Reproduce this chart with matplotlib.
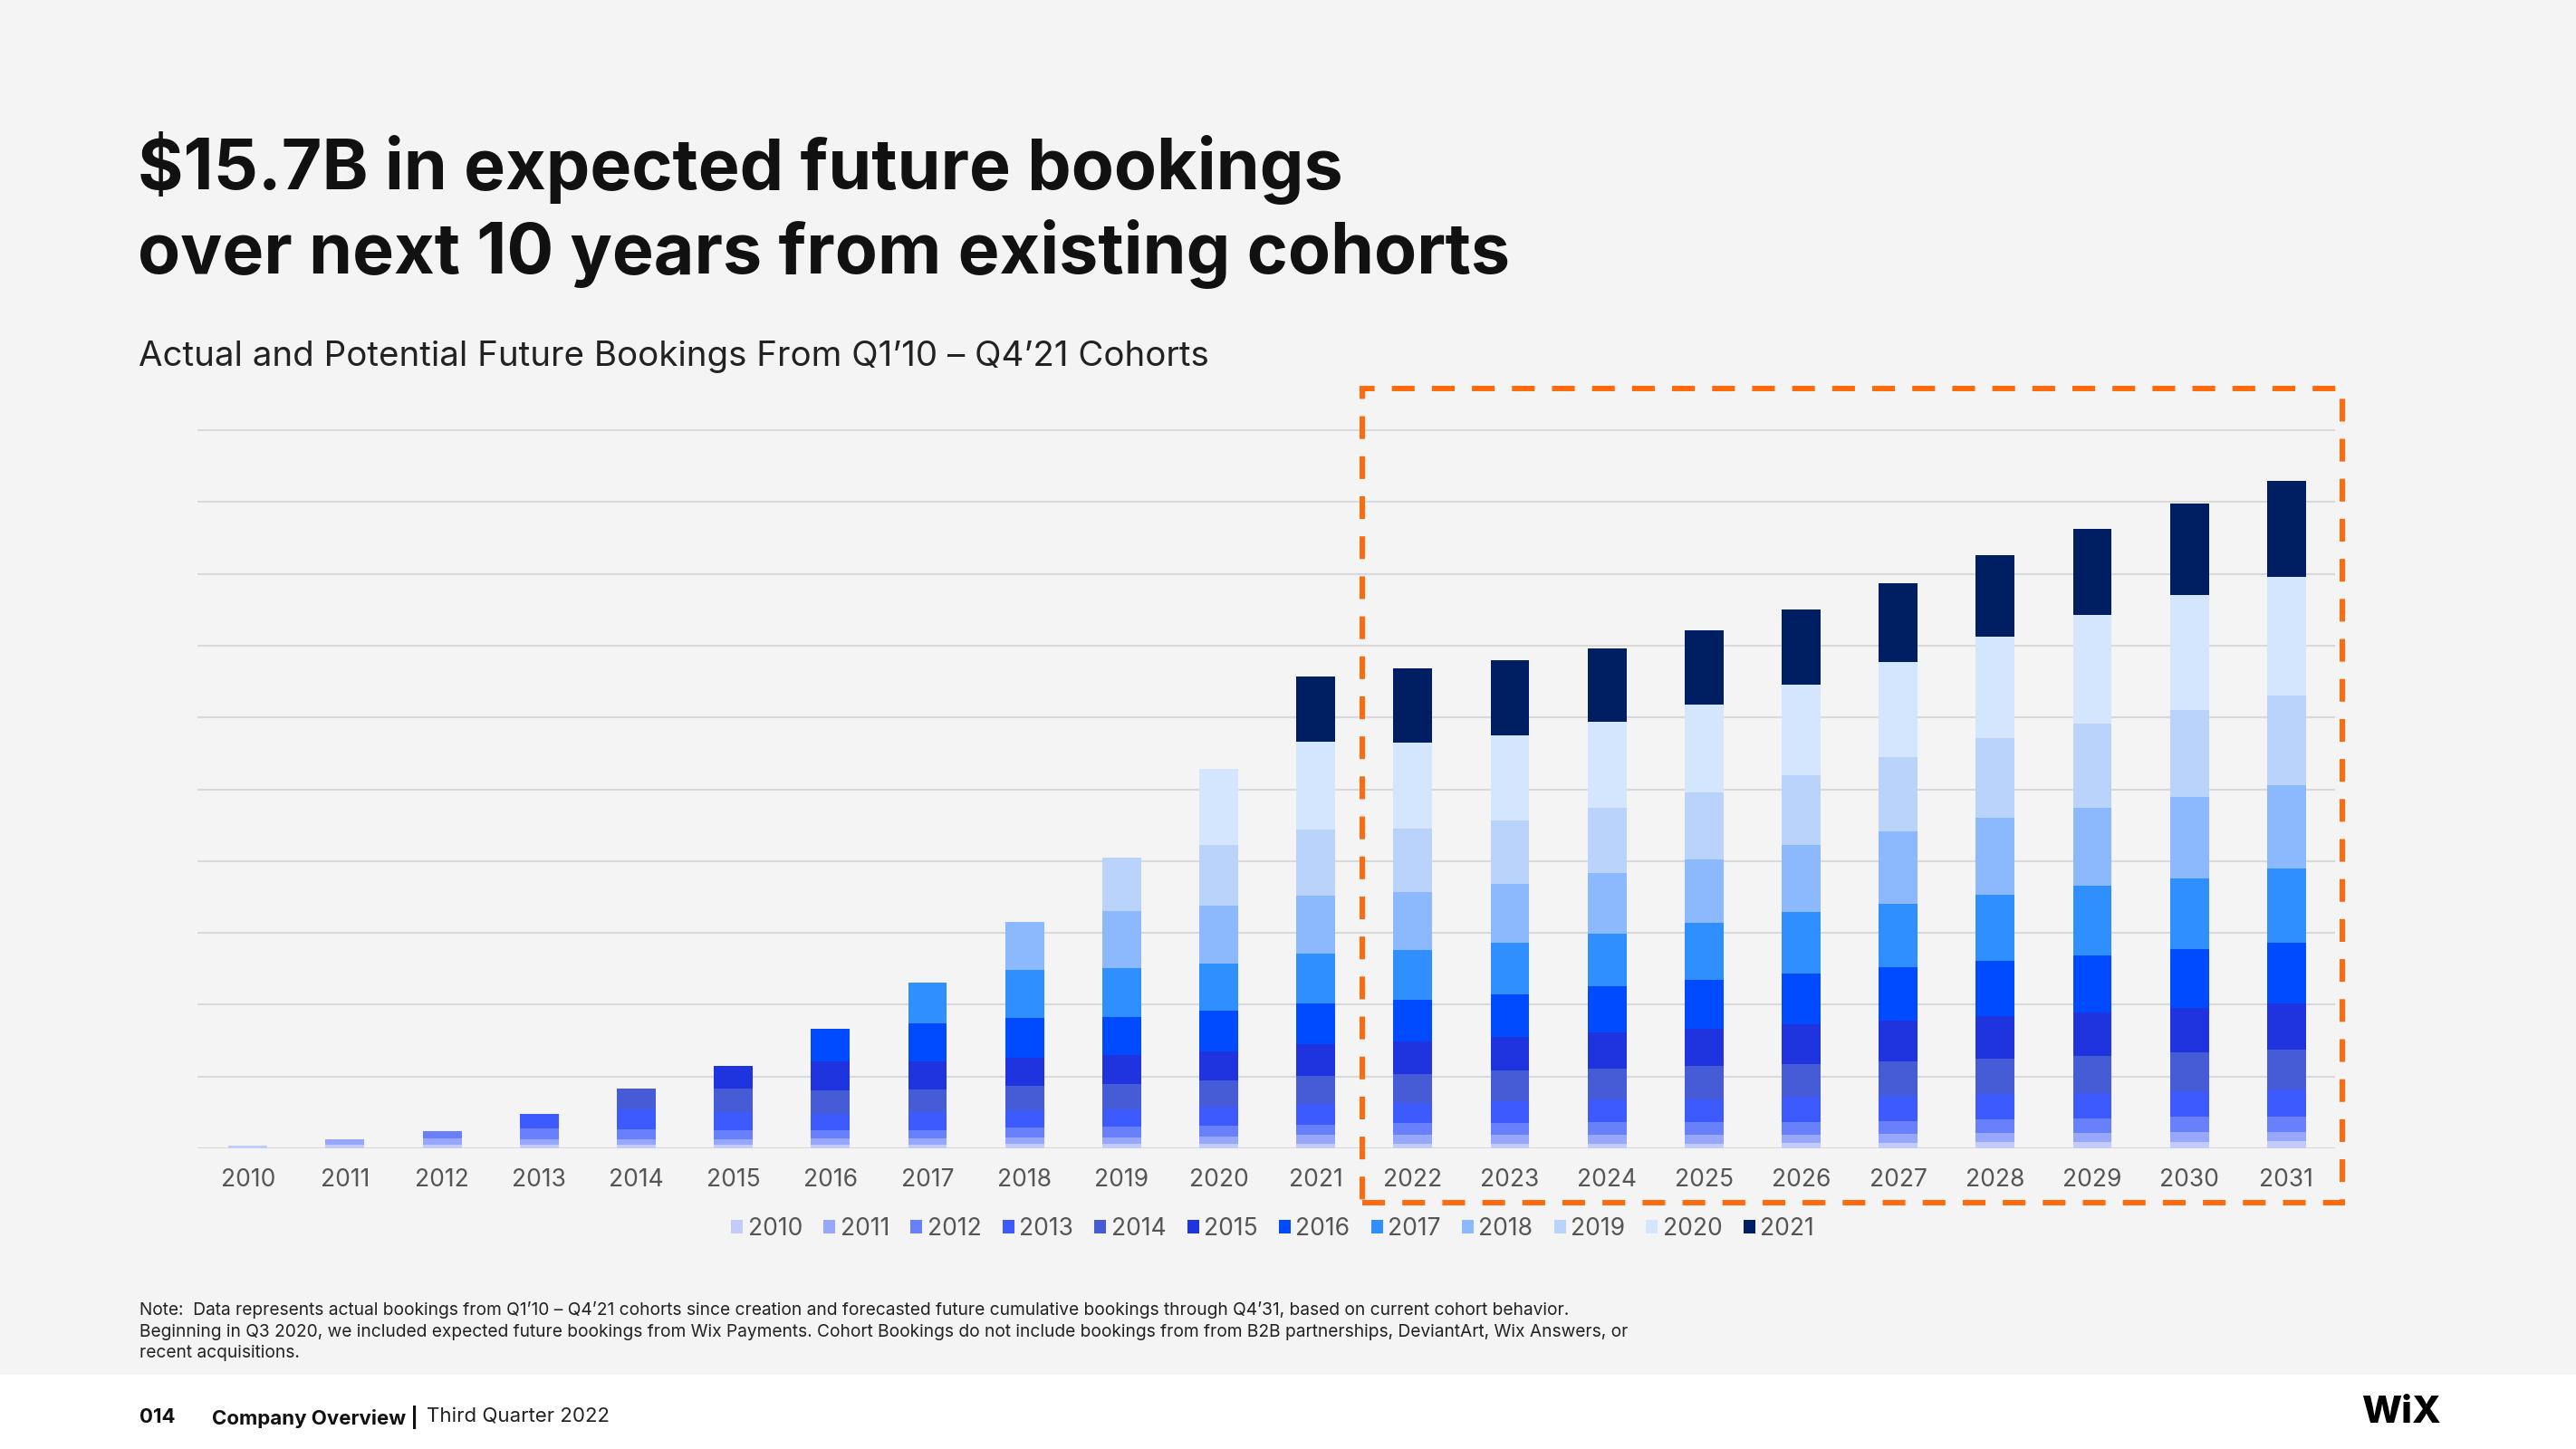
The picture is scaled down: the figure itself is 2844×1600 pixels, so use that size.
import matplotlib
matplotlib.use("Agg")
import matplotlib.pyplot as plt
from matplotlib.patches import Rectangle, Patch
import numpy as np

# ---------------- data (height in gridline units) ----------------
years = ["2010", "2011", "2012", "2013", "2014", "2015", "2016", "2017", "2018", "2019", "2020",
         "2021", "2022", "2023", "2024", "2025", "2026", "2027", "2028", "2029", "2030", "2031"]
cohorts = ["2010", "2011", "2012", "2013", "2014", "2015", "2016", "2017", "2018", "2019", "2020", "2021"]

c2010 = [0.034, 0.055, 0.047, 0.055, 0.055, 0.055, 0.050, 0.050, 0.060, 0.060, 0.060, 0.066,
         0.069, 0.069, 0.069, 0.069, 0.078, 0.078, 0.085, 0.085, 0.091, 0.098]
c2011 = [0, 0.068, 0.097, 0.076, 0.076, 0.068, 0.083, 0.083, 0.087, 0.092, 0.101, 0.120,
         0.118, 0.118, 0.118, 0.123, 0.117, 0.130, 0.130, 0.130, 0.137, 0.130]
c2012 = [0, 0, 0.100, 0.144, 0.135, 0.123, 0.124, 0.124, 0.138, 0.147, 0.157, 0.147,
         0.162, 0.162, 0.177, 0.177, 0.176, 0.176, 0.189, 0.202, 0.209, 0.215]
c2013 = [0, 0, 0, 0.200, 0.275, 0.254, 0.226, 0.244, 0.249, 0.249, 0.267, 0.290,
         0.286, 0.305, 0.315, 0.315, 0.346, 0.352, 0.352, 0.346, 0.359, 0.378]
c2014 = [0, 0, 0, 0, 0.290, 0.334, 0.327, 0.313, 0.331, 0.345, 0.355, 0.388,
         0.399, 0.428, 0.428, 0.458, 0.457, 0.476, 0.496, 0.528, 0.535, 0.554]
c2015 = [0, 0, 0, 0, 0, 0.317, 0.405, 0.391, 0.400, 0.405, 0.414, 0.440,
         0.448, 0.463, 0.502, 0.522, 0.554, 0.561, 0.587, 0.600, 0.626, 0.646]
c2016 = [0, 0, 0, 0, 0, 0, 0.451, 0.534, 0.557, 0.529, 0.566, 0.568,
         0.591, 0.601, 0.645, 0.684, 0.705, 0.744, 0.770, 0.789, 0.815, 0.841]
c2017 = [0, 0, 0, 0, 0, 0, 0, 0.571, 0.668, 0.677, 0.658, 0.697,
         0.694, 0.719, 0.739, 0.793, 0.855, 0.894, 0.926, 0.972, 0.992, 1.037]
c2018 = [0, 0, 0, 0, 0, 0, 0, 0, 0.668, 0.797, 0.797, 0.806,
         0.798, 0.817, 0.842, 0.876, 0.933, 1.005, 1.063, 1.089, 1.135, 1.161]
c2019 = [0, 0, 0, 0, 0, 0, 0, 0, 0, 0.741, 0.847, 0.916,
         0.881, 0.886, 0.906, 0.940, 0.972, 1.031, 1.109, 1.168, 1.200, 1.246]
c2020 = [0, 0, 0, 0, 0, 0, 0, 0, 0, 0, 1.064, 1.225,
         1.201, 1.182, 1.196, 1.216, 1.266, 1.331, 1.416, 1.520, 1.605, 1.650]
c2021 = [0, 0, 0, 0, 0, 0, 0, 0, 0, 0, 0, 0.910,
         1.039, 1.049, 1.029, 1.036, 1.044, 1.089, 1.135, 1.194, 1.279, 1.337]

series = [c2010, c2011, c2012, c2013, c2014, c2015, c2016, c2017, c2018, c2019, c2020, c2021]
colors = ["#C3CBFA", "#97A8FC", "#6880FB", "#3C5AFD", "#455CD6", "#1F33DF",
          "#004BFF", "#2F8FFF", "#8CB8FE", "#BAD3FA", "#D4E6FE", "#001E62"]

title_lines = ["$15.7B in expected future bookings", "over next 10 years from existing cohorts"]
subtitle = "Actual and Potential Future Bookings From Q1\u201910 \u2013 Q4\u201921 Cohorts"
note_lines = [
    "Note:  Data represents actual bookings from Q1\u201910 \u2013 Q4\u201921 cohorts since creation and forecasted future cumulative bookings through Q4\u201931, based on current cohort behavior.",
    "Beginning in Q3 2020, we included expected future bookings from Wix Payments. Cohort Bookings do not include bookings from from B2B partnerships, DeviantArt, Wix Answers, or",
    "recent acquisitions.",
]

# ---------------- figure ----------------
W, H = 2844, 1600
plt.rcParams['font.family'] = ['Inter', 'DejaVu Sans']
BG = "#F4F4F4"
fig = plt.figure(figsize=(W / 100, H / 100), dpi=100, facecolor=BG)

# white footer band
fig.patches.append(Rectangle((0, 0), 1, 82 / H, transform=fig.transFigure,
                             facecolor="white", edgecolor="none", zorder=0))

ax = fig.add_axes([218 / W, 332 / H, (2578 - 218) / W, 10.5 * 79.3 / H])
ax.set_facecolor("none")
x = np.arange(len(years))
bottom = np.zeros(len(years))
handles = []
for name, vals, col in zip(cohorts, series, colors):
    v = np.array(vals, dtype=float)
    ax.bar(x, v, width=0.40, bottom=bottom, color=col, edgecolor="none", zorder=3)
    bottom += v
    handles.append(Patch(facecolor=col, edgecolor="none", label=name))

ax.set_xlim(-0.52, 21.5)
ax.set_ylim(0, 10.5)
ax.set_yticks(np.arange(0, 11, 1))
ax.yaxis.grid(True, color="#D9D9D9", linewidth=1.5, zorder=0)
for lab in ax.get_yticklabels():
    lab.set_visible(False)
ax.tick_params(axis='y', length=0)
ax.set_xticks(x)
ax.set_xticklabels(years, fontsize=19, color="#555555")
ax.tick_params(axis='x', length=0, pad=16)
for s in ax.spines.values():
    s.set_visible(False)
ax.set_axisbelow(True)

# legend
fig.legend(handles=handles, ncol=12, loc="center", bbox_to_anchor=(1405 / W, 1 - 1357 / H),
           frameon=False, fontsize=19, handlelength=0.5, handleheight=0.5,
           handletextpad=0.2, columnspacing=0.88, labelcolor="#555555")

# dashed forecast box
fig.patches.append(Rectangle((1504 / W, 1 - 1328 / H), (2586 - 1504) / W, (1328 - 429) / H,
                             transform=fig.transFigure, fill=False, edgecolor="#FF6A0D",
                             linewidth=4.3, linestyle=(0, (4.2, 3.2)), zorder=5))

# titles
fig.text(152 / W, 1 - 209 / H, title_lines[0], fontsize=55.5, fontweight="bold", color="#111111", va="baseline")
fig.text(152 / W, 1 - 302 / H, title_lines[1], fontsize=55.5, fontweight="bold", color="#111111", va="baseline")
fig.text(153 / W, 1 - 404 / H, subtitle, fontsize=27.7, color="#222222", va="baseline")

# note
for i, ln in enumerate(note_lines):
    fig.text(154 / W, 1 - (1447 + 23.5 * i) / H, ln, fontsize=13.8, color="#222222", va="center")

# footer
r = fig.canvas.get_renderer()
fy = 1 - 1565 / H
fig.text(154 / W, fy, "014", fontsize=16, fontweight="bold", color="#111111", va="center")
t1 = fig.text(234 / W, fy, "Company Overview |", fontsize=16, fontweight="bold", color="#111111", va="center")
bb = t1.get_window_extent(renderer=r)
fig.text((bb.x1 + 9) / W, fy, "Third Quarter 2022", fontsize=16, color="#222222", va="center")
fig.text(2651 / W, 1 - 1560 / H, "WiX", fontsize=30, fontweight="heavy", color="#000000",
         ha="center", va="center")

fig.savefig("out.png", dpi=100, facecolor=BG)
